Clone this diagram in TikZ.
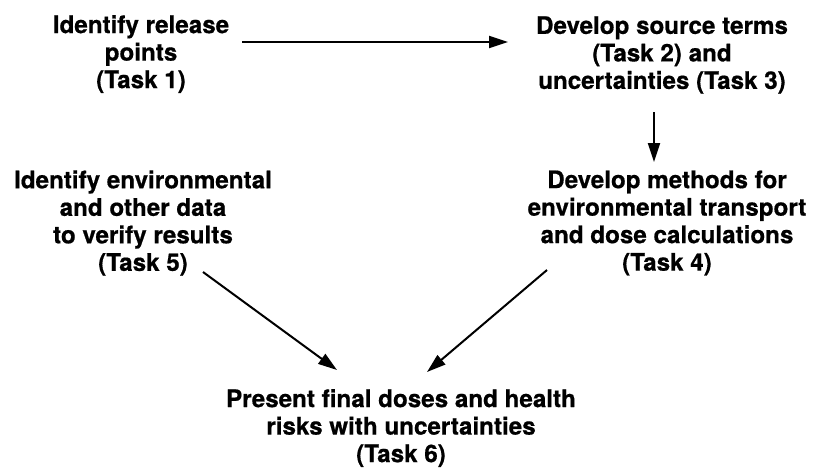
\documentclass[tikz,border=0pt]{standalone}
\usepackage{fontspec}
\setmainfont{TeX Gyre Heros}[BoldFeatures={FakeBold=0.6}]
\usetikzlibrary{arrows.meta,calc}
\tikzset{
  task/.style={align=center,inner sep=0pt,font=\fontsize{24.2}{27.5}\selectfont\bfseries},
  arr/.style={line width=2pt,-{Triangle[length=19pt,width=12pt]}}
}
\begin{document}
\begin{tikzpicture}[x=1pt,y=-1pt]
\useasboundingbox (0,0) rectangle (814,467);
\node[task] (t1) at (141,54) {Identify release\\points\\(Task 1)};
\node[task] (t23) at (662,55) {Develop source terms\\(Task 2) and\\uncertainties (Task 3)};
\node[task] (t4) at (667,223) {Develop methods for\\environmental transport\\and dose calculations\\(Task 4)};
\node[task] (t5) at (143,223) {Identify environmental\\and other data\\to verify results\\(Task 5)};
\node[task] (t6) at (401,428) {Present final doses and health\\risks with uncertainties\\(Task 6)};
\draw[arr] ($(t1.center)+(101,-12)$) -- ($(t23.center)+(-154,-13)$);
\draw[arr] ($(t23.center)+(-8,57)$) -- ($(t4.center)+(-13,-61)$);
\draw[arr] ($(t5.center)+(60,49)$) -- ($(t6.center)+(-64,-58)$);
\draw[arr] ($(t4.center)+(-120,47)$) -- ($(t6.center)+(26,-56)$);
\end{tikzpicture}
\end{document}
